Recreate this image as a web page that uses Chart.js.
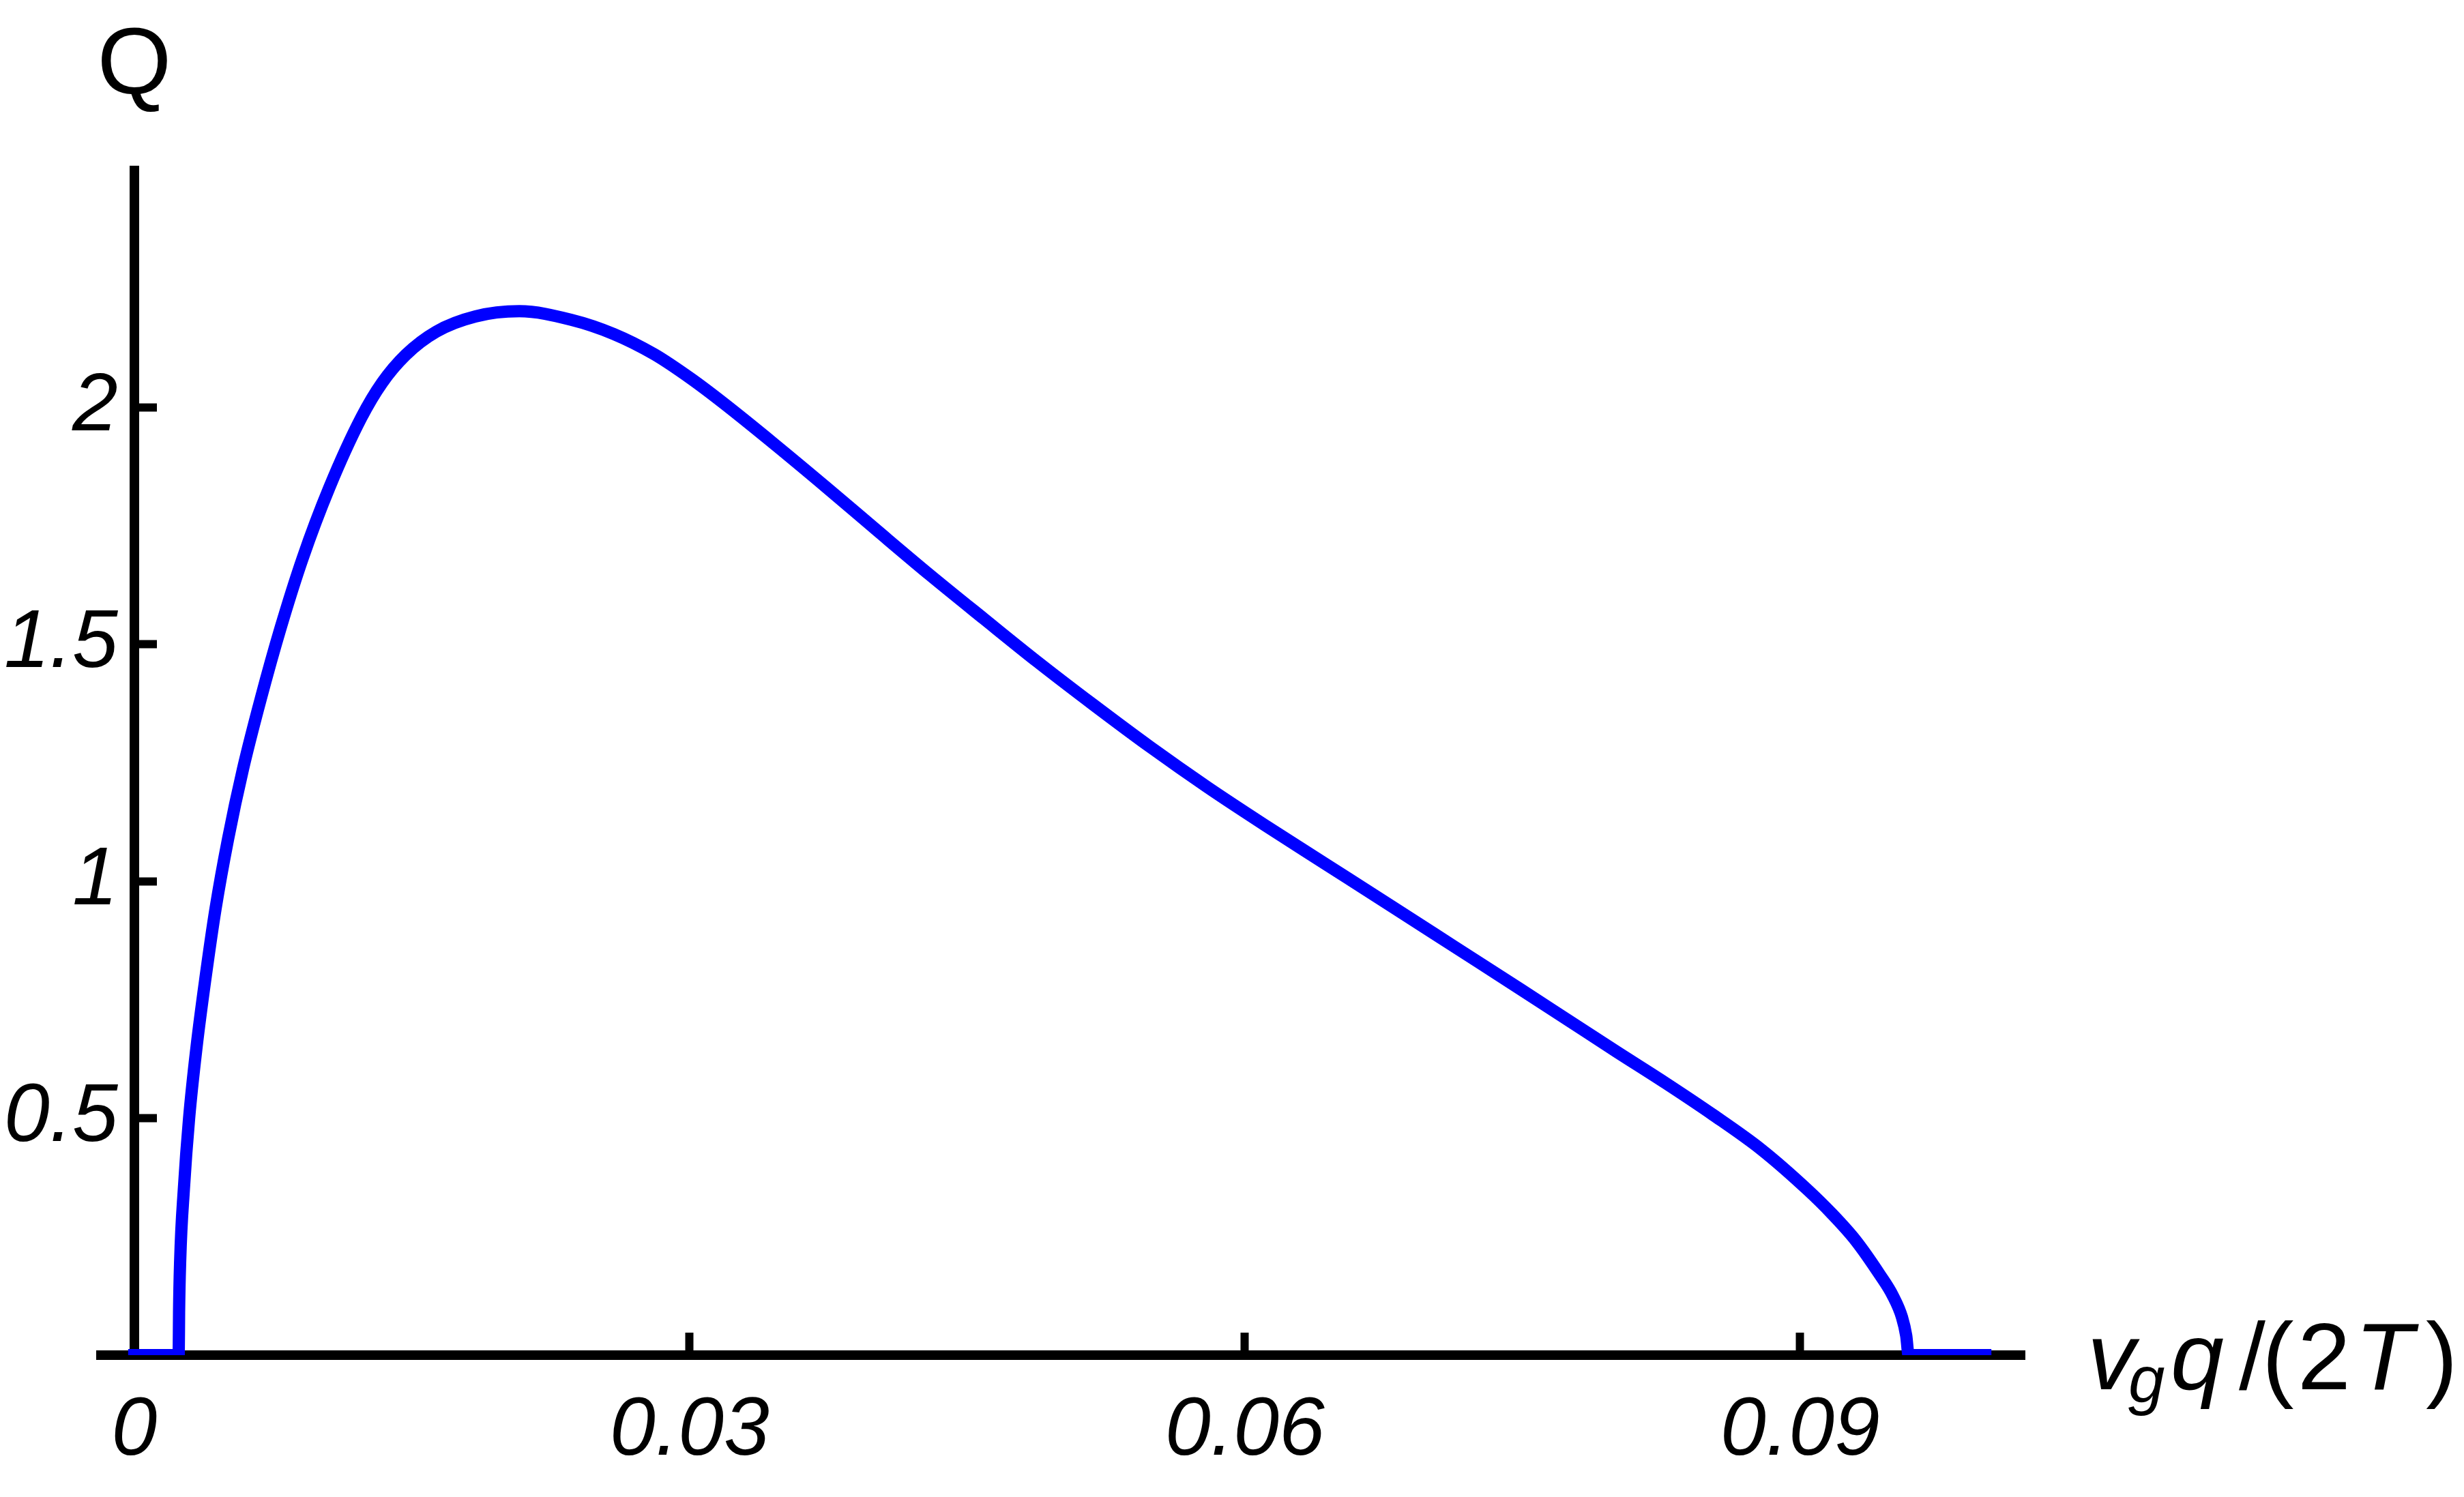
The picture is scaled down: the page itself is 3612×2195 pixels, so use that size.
<!DOCTYPE html>
<html>
<head>
<meta charset="utf-8">
<script src="https://cdn.jsdelivr.net/npm/chart.js@4.4.1/dist/chart.umd.min.js"></script>
<style>
  html, body { margin: 0; padding: 0; background: #fff; }
  #wrap { width: 3612px; height: 2195px; }
</style>
</head>
<body>
<div id="wrap"><canvas id="chart" width="3612" height="2195"></canvas></div>
<script>
// curve: v_g q/(2T) -> Q
const xValues = [0, 0.0024, 0.00242, 0.00248, 0.00268, 0.00296, 0.00337, 0.00384, 0.00439, 0.00507,
  0.00588, 0.00684, 0.0079, 0.0091, 0.01053, 0.01226, 0.01339, 0.01467, 0.01632, 0.01843,
  0.0208, 0.0236, 0.0259, 0.0281, 0.0301, 0.0318, 0.0346, 0.0374, 0.0402, 0.043,
  0.0459, 0.0488, 0.0518, 0.0549, 0.058, 0.0611, 0.0643, 0.0679, 0.0714, 0.0749,
  0.0775, 0.0801, 0.0827, 0.0853, 0.0879, 0.0904, 0.0917, 0.093, 0.0943, 0.095,
  0.0955, 0.09573, 0.09586, 0.1];
const qValues = [0, 0, 0.09, 0.2, 0.351, 0.499, 0.652, 0.794, 0.942, 1.09,
  1.238, 1.386, 1.534, 1.682, 1.83, 1.978, 2.052, 2.111, 2.16, 2.192,
  2.203, 2.185, 2.155, 2.112, 2.06, 2.01, 1.922, 1.831, 1.738, 1.646,
  1.554, 1.463, 1.373, 1.283, 1.198, 1.118, 1.038, 0.948, 0.86, 0.772,
  0.706, 0.64, 0.575, 0.507, 0.434, 0.349, 0.299, 0.242, 0.17, 0.126,
  0.08, 0.041, 0, 0];

const xTicks = [0, 0.03, 0.06, 0.09];
const xTickLabels = ['0', '0.03', '0.06', '0.09'];
const yTicks = [0.5, 1, 1.5, 2];
const yTickLabels = ['0.5', '1', '1.5', '2'];
const yTitle = 'Q';
// [text, italic, subscript]
const xTitleParts = [['v', true, false], ['g', true, true], ['q', true, false], ['/', false, false],
  ['(', false, false], ['2', false, false], ['T', true, false], [')', false, false]];

const FONT = '"Liberation Sans", Arial, sans-serif';
const partOffsets = [0, 60, 122, 222, 256, 308, 392, 496];

const axisTitles = {
    id: 'axisTitles',
    afterDraw(chart) {
        const { ctx, scales: { x, y } } = chart;
        ctx.save();
        ctx.fillStyle = '#000';
        ctx.textBaseline = 'alphabetic';

        ctx.textAlign = 'center';
        ctx.font = `140px ${FONT}`;
        ctx.fillText(yTitle, x.getPixelForValue(0), y.top - 112);

        ctx.textAlign = 'left';
        const x0 = x.right + 92;
        const base = y.bottom + 50;
        xTitleParts.forEach(([t, it, sub], i) => {
            ctx.font = `${it ? 'italic ' : ''}${sub ? 96 : 140}px ${FONT}`;
            ctx.fillText(t, x0 + partOffsets[i], base + (sub ? 19 : 0));
        });
        ctx.restore();
    }
};

const tickFont = { family: FONT, size: 120, style: 'italic' };

new Chart(document.getElementById('chart').getContext('2d'), {
    type: 'scatter',
    data: {
        datasets: [{
            data: xValues.map((x, i) => ({ x, y: qValues[i] })),
            showLine: true,
            borderColor: '#0000ff',
            borderWidth: 18,
            borderCapStyle: 'square',
            borderJoinStyle: 'miter',
            pointRadius: 0,
            cubicInterpolationMode: 'monotone'
        }]
    },
    options: {
        responsive: false,
        animation: false,
        events: [],
        layout: { padding: { left: 148, right: 644, top: 250, bottom: 0 } },
        plugins: { legend: { display: false }, tooltip: { enabled: false } },
        scales: {
            x: {
                type: 'linear',
                position: 'bottom',
                min: -0.0018,
                max: 0.10213,
                z: 1,
                afterBuildTicks: s => { s.ticks = xTicks.map(v => ({ value: v })); },
                afterFit: s => { s.height = 208; },
                ticks: {
                    callback: (v, i) => xTickLabels[i],
                    font: tickFont,
                    color: '#000',
                    padding: 74,
                    maxRotation: 0,
                    autoSkip: false
                },
                grid: { drawOnChartArea: false, drawTicks: true, tickLength: -33, tickWidth: 12, tickColor: '#000' },
                border: { display: true, color: '#000', width: 14 }
            },
            y: {
                type: 'linear',
                position: { x: 0 },
                min: 0,
                max: 2.5,
                z: 1,
                afterBuildTicks: s => { s.ticks = yTicks.map(v => ({ value: v })); },
                afterFit: s => { s.width = 0; },
                ticks: {
                    // labels sit flush on the axis here, a thin space keeps them off it
                    callback: (v, i) => yTickLabels[i] + '\u2009',
                    font: tickFont,
                    color: '#000',
                    autoSkip: false
                },
                grid: { drawOnChartArea: false, drawTicks: true, tickLength: -40, tickWidth: 12, tickColor: '#000' },
                border: { display: true, color: '#000', width: 14 }
            }
        }
    },
    plugins: [axisTitles]
});
</script>
</body>
</html>
